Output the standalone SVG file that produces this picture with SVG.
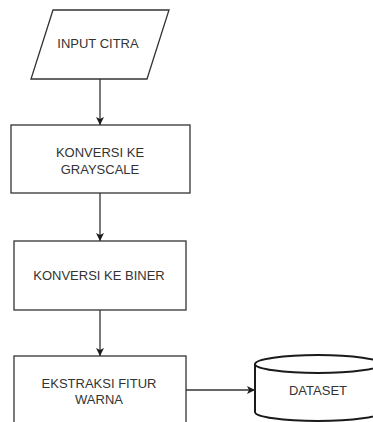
<svg xmlns="http://www.w3.org/2000/svg" width="373" height="422" viewBox="0 0 373 422">
<defs>
<style>
.shape{fill:#ffffff;stroke:#333333;stroke-width:1.3}
.db{fill:#ffffff;stroke:#1a1a1a;stroke-width:2}
.lbl{font-family:"Liberation Sans",Arial,sans-serif;font-size:13px;fill:#333333;text-anchor:middle}
.edge{fill:none;stroke:#333333;stroke-width:1.3}
</style>
<marker id="arr" viewBox="0 0 10 10" refX="10" refY="5" markerWidth="8" markerHeight="8" markerUnits="userSpaceOnUse" orient="auto">
<path d="M0,0 L10,5 L0,10 L2.5,5 Z" fill="#1a1a1a"/>
</marker>
</defs>
<rect width="373" height="422" fill="#ffffff"/>
<g id="input">
<polygon class="shape" points="53,10 169,10 147,79 31,79"/>
<text class="lbl" x="98" y="48">INPUT CITRA</text>
</g>
<g id="grayscale">
<rect class="shape" x="11" y="125" width="179" height="68"/>
<text class="lbl" x="100" y="157">KONVERSI KE</text>
<text class="lbl" x="100" y="174">GRAYSCALE</text>
</g>
<g id="biner">
<rect class="shape" x="14" y="241" width="172" height="69"/>
<text class="lbl" x="99" y="280">KONVERSI KE BINER</text>
</g>
<g id="ekstraksi">
<rect class="shape" x="14" y="356" width="172" height="80"/>
<text class="lbl" x="99" y="388">EKSTRAKSI FITUR</text>
<text class="lbl" x="99" y="404">WARNA</text>
</g>
<g id="dataset">
<path class="db" d="M255,364 L255,412 A63,9 0 0 0 381,412 L381,364"/>
<ellipse class="db" cx="318" cy="364" rx="63" ry="9"/>
<text class="lbl" x="318" y="395">DATASET</text>
</g>
<g id="connectors">
<line class="edge" x1="100" y1="79" x2="100" y2="125" marker-end="url(#arr)"/>
<line class="edge" x1="100" y1="193" x2="100" y2="241" marker-end="url(#arr)"/>
<line class="edge" x1="100" y1="310" x2="100" y2="356" marker-end="url(#arr)"/>
<line class="edge" x1="186" y1="390" x2="255" y2="390" marker-end="url(#arr)"/>
</g>
</svg>
